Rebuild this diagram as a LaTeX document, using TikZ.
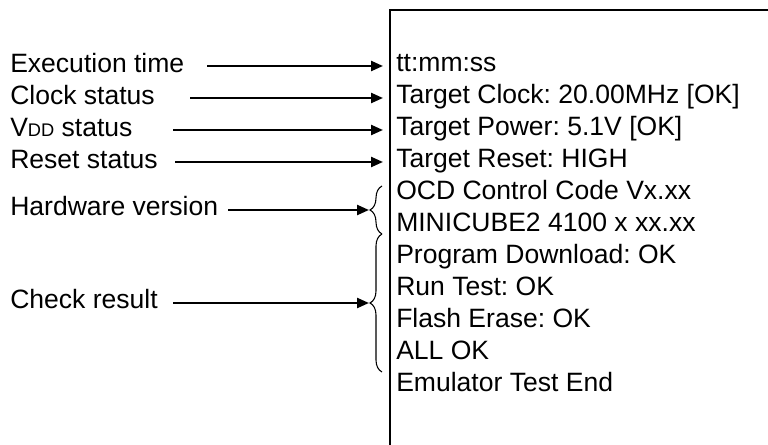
\documentclass[tikz,border=0pt]{standalone}
\usepackage{fontspec}
\setmainfont{Liberation Sans}
\usetikzlibrary{arrows.meta,decorations.pathreplacing}
\frenchspacing

\begin{document}
\begin{tikzpicture}[
    x=0.75pt, y=-0.75pt,
    txt/.style={anchor=base west, inner sep=0pt,
        font=\fontsize{19.9pt}{23pt}\selectfont},
    arr/.style={line width=1.7pt, -{Triangle[length=9pt,width=7.5pt]}},
    frame/.style={line width=1.6pt},
    brc/.style={line width=0.8pt, decorate,
        decoration={brace, amplitude=9pt}}
]
    \useasboundingbox (0,0) rectangle (768,445);
    \draw[frame] (390,445) -- (390,10) -- (768,10);
    % labels
    \node[txt] (exec) at (10,73) {Execution time};
    \node[txt] (clock) at (10,105) {Clock status};
    \node[txt] (vdd) at (10,137) {V{\fontsize{13.7pt}{14pt}\selectfont DD} status};
    \node[txt] (reset) at (10,169) {Reset status};
    \node[txt] (hw) at (10,216) {Hardware version};
    \node[txt] (check) at (10,309) {Check result};
    % display
    \node[txt] (r0) at (396,72) {tt:mm:ss};
    \node[txt] (r1) at (396,104) {Target Clock: 20.00MHz [OK]};
    \node[txt] (r2) at (396,136) {Target Power: 5.1V [OK]};
    \node[txt] (r3) at (396,168) {Target Reset: HIGH};
    \node[txt] (r4) at (396,200) {OCD Control Code Vx.xx};
    \node[txt] (r5) at (396,232) {MINICUBE2 4100 x xx.xx};
    \node[txt] (r6) at (396,264) {Program Download: OK};
    \node[txt] (r7) at (396,296) {Run Test: OK};
    \node[txt] (r8) at (396,328) {Flash Erase: OK};
    \node[txt] (r9) at (396,360) {ALL OK};
    \node[txt] (r10) at (396,392) {Emulator Test End};
    % arrow tails and brace tips
    \coordinate (s0) at (207,66);
    \coordinate (s1) at (190,98);
    \coordinate (s2) at (173,130);
    \coordinate (s3) at (175,162);
    \coordinate (s4) at (228,210);
    \coordinate (s5) at (173,303);
    \coordinate (hwtip) at (369,210);
    \coordinate (cktip) at (369,303);
    \draw[brc] (382,234) -- (382,186);
    \draw[brc] (382,372) -- (382,234);
    \draw[arr, shorten >=9.75pt] (s0) -- (s0 -| r0.west);
    \draw[arr, shorten >=9.75pt] (s1) -- (s1 -| r1.west);
    \draw[arr, shorten >=9.75pt] (s2) -- (s2 -| r2.west);
    \draw[arr, shorten >=9.75pt] (s3) -- (s3 -| r3.west);
    \draw[arr] (s4) -- (hwtip);
    \draw[arr] (s5) -- (cktip);
\end{tikzpicture}
\end{document}
